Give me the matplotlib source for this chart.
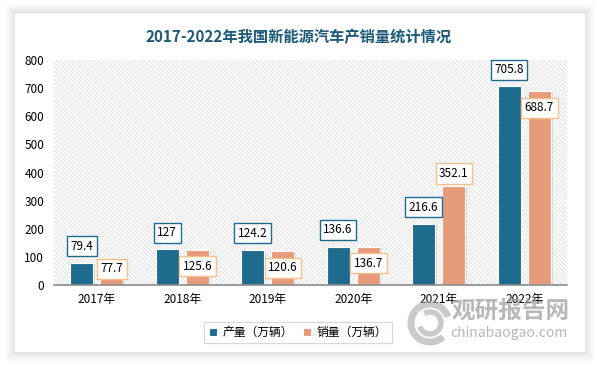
import numpy as np
import matplotlib
matplotlib.use("Agg")
import matplotlib.pyplot as plt
from matplotlib.patches import Rectangle, Arc
import matplotlib.patheffects as pe

plt.rcParams['font.family'] = ['Noto Sans CJK SC', 'DejaVu Sans']
plt.rcParams['hatch.linewidth'] = 0.6

# Data
years = ["2017年", "2018年", "2019年", "2020年", "2021年", "2022年"]
production = [79.4, 127, 124.2, 136.6, 216.6, 705.8]
sales = [77.7, 125.6, 120.6, 136.7, 352.1, 688.7]
y_ticks = [0, 100, 200, 300, 400, 500, 600, 700, 800]

title = "2017-2022年我国新能源汽车产销量统计情况"
legend_labels = ["产量（万辆）", "销量（万辆）"]

blue = "#1f6b8e"
salmon = "#e89b7b"

W, H = 597, 365
fig = plt.figure(figsize=(W / 100, H / 100), dpi=100)
fig.patch.set_facecolor("white")

# Panel shadow and white panel
px0, py0, px1, py1 = 15, 13, 585, 352
for i in range(9, 0, -1):
    fig.add_artist(Rectangle(((px0 - i) / W, 1 - (py1 + i) / H), (px1 - px0 + 2 * i) / W,
                             (py1 - py0 + 2 * i) / H, transform=fig.transFigure,
                             facecolor="#000000", alpha=0.012, edgecolor="none", zorder=0))
fig.add_artist(Rectangle((px0 / W, 1 - py1 / H), (px1 - px0) / W, (py1 - py0) / H,
                         transform=fig.transFigure, facecolor="white", edgecolor="none", zorder=0))

# Title
fig.text(0.5, 1 - 37 / H, title, ha="center", va="center", fontsize=11,
         fontweight="bold", color="#1c5a78")

# Axes
ax = fig.add_axes([54 / W, 80 / H, 513 / W, 225 / H])
ax.set_facecolor("none")
ax.add_patch(Rectangle((0, 0), 1, 1, transform=ax.transAxes, facecolor="white",
                       edgecolor="#dadada", hatch="\\" * 8, linewidth=0, zorder=0))

x = np.arange(len(years))
bw = 0.27
off = 0.177
shadow = [pe.SimplePatchShadow(offset=(1.2, -1), alpha=0.25, shadow_rgbFace="#888888"), pe.Normal()]
b1 = ax.bar(x - off, production, bw, color=blue, edgecolor="white", linewidth=0.8, zorder=3)
b2 = ax.bar(x + off, sales, bw, color=salmon, edgecolor="white", linewidth=0.8, zorder=3)
for b in list(b1) + list(b2):
    b.set_path_effects(shadow)

ax.set_xlim(-0.5, len(years) - 0.5)
ax.set_ylim(0, 800)
ax.set_yticks(y_ticks)
ax.set_yticklabels([str(t) for t in y_ticks], fontsize=8.5)
ax.set_xticks(x)
ax.set_xticklabels(years, fontsize=8.5)
ax.tick_params(axis="both", length=0)
ax.tick_params(axis="y", pad=7)
ax.tick_params(axis="x", pad=6)
for s in ["left", "right", "top"]:
    ax.spines[s].set_visible(False)
ax.spines["bottom"].set_color("#8c8c8c")
ax.spines["bottom"].set_linewidth(1.2)
ax.spines["bottom"].set_zorder(5)

# Data labels
box_blue = dict(boxstyle="square,pad=0.3", facecolor="white", edgecolor=blue, linewidth=1)
box_orange = dict(boxstyle="square,pad=0.3", facecolor="white", edgecolor="#f7c08c", linewidth=1)
for i, v in enumerate(production):
    ax.annotate(f"{v:g}", (x[i] - off, v), xytext=(0, 12), textcoords="offset points",
                ha="center", va="center", fontsize=8.5, zorder=6, bbox=box_blue)
for i, v in enumerate(sales):
    if v > production[i] * 1.2:
        yy, dy = v, 9          # label above the bar
    elif v >= 114:
        yy, dy = v, -12        # label inside the bar top
    else:
        yy, dy = 57, 0         # short bar: keep label above the axis
    ax.annotate(f"{v:g}", (x[i] + off, yy), xytext=(0, dy), textcoords="offset points",
                ha="center", va="center", fontsize=8.5, zorder=6, bbox=box_orange)

# Legend
leg = fig.legend([b1, b2], legend_labels, loc="center", bbox_to_anchor=(298 / W, 1 - 332.5 / H),
                 ncol=2, fontsize=8.5, frameon=True, fancybox=False, handlelength=0.7,
                 handleheight=0.7, handletextpad=0.5, columnspacing=0.8, borderpad=0.35)
leg.get_frame().set_edgecolor("#d0d0d0")
leg.get_frame().set_linewidth(0.8)
for h in leg.legend_handles:
    h.set_path_effects([])

# Watermark
fig.text(511 / W, 1 - 311 / H, "观研报告网", ha="center", va="center", fontsize=17,
         fontweight="bold", color="#9a9a9a", alpha=0.7, zorder=10)
fig.text(509 / W, 1 - 333 / H, "chinabaogao.com", ha="center", va="center", fontsize=10,
         color="#9a9a9a", alpha=0.7, zorder=10)
for r, a1, a2, lw in [(19, 30, 300, 5), (11, 210, 110, 4)]:
    fig.add_artist(Arc((430 / W, 1 - 323 / H), 2 * r / W, 2 * r / H, theta1=a1, theta2=a2,
                       transform=fig.transFigure, color="#a8a8a8", alpha=0.6, linewidth=lw, zorder=10))

fig.savefig("out.png", dpi=100)
